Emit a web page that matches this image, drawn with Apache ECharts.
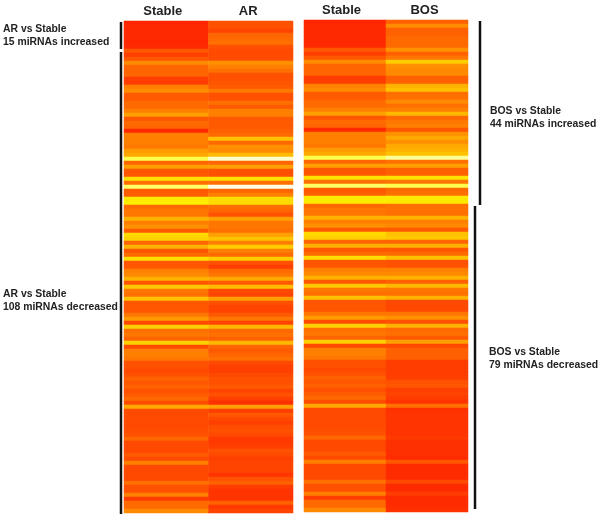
<!DOCTYPE html>
<html>
<head>
	<meta charset="utf-8">
	<title>miRNA heatmap</title>
	<script src="https://cdn.jsdelivr.net/npm/echarts@6/dist/echarts.min.js"></script>
	<style type="text/css">
		html,body{margin:0;padding:0;background:#ffffff;}
		/* the reference is a soft, slightly blurred scan */
		#main{width:600px;height:518px;filter:blur(0.55px);}
	</style>
</head>
<body>
	<div id="main"></div>
	<script type="text/javascript">
		// values are on a colour scale: 0 red, 10 yellow, 20 white
		var stable=[0.2,0.4,0.4,0.4,0.4,0.4,0.5,2.4,1.4,2.4,4.8,3.1,3.1,3.1,1.3,1.3,4.3,4.8,2.6,2.6,3.3,3.3,4.3,5.7,2.4,3.3,3.1,
			0.4,4.3,4.3,4.3,4.0,5.5,6.1,13,3.1,5.7,2.4,2.4,8.6,3.6,14,2.6,2.8,9.0,9.2,3.3,3.9,3.9,6.5,4.3,5.0,2.6,8.3,7.9,3.1,6.5,2.4,3.3,
			8.5,2.4,2.4,4.3,4.7,6.5,2.4,7.5,3.9,3.6,7.2,2.4,2.4,2.4,3.9,5.5,1.9,7.9,3.6,3.9,3.1,7.9,1.9,4.3,4.3,3.9,2.2,2.2,1.8,2.2,2.9,
			2.4,2.9,2.2,2.6,3.3,2.0,6.1,1.9,1.9,1.9,1.9,1.9,2.0,2.2,3.2,1.8,1.8,1.8,2.6,1.9,4.3,1.8,1.8,1.8,1.8,3.6,2.2,2.2,4.3,1.3,3.3,3.3,4.7];
		var ar=[2.2,2.2,1.6,3.1,3.3,3.6,2.2,1.9,1.9,2.0,5.0,4.3,3.6,2.2,2.2,2.4,2.6,4.0,2.2,2.2,3.6,2.6,4.3,4.3,2.6,2.6,2.6,
			2.9,3.3,7.2,3.3,5.0,4.8,6.9,18,3.1,5.7,2.2,2.2,8.6,3.6,19,3.1,4.3,8.4,8.4,3.6,3.1,2.2,5.7,3.9,3.9,3.6,5.7,7.2,4.3,7.7,4.3,3.3,
			7.7,2.2,1.4,3.3,3.9,6.1,2.6,7.0,1.9,1.6,5.7,2.2,1.6,1.6,2.6,3.9,1.6,6.8,3.3,3.6,2.9,6.8,3.1,2.6,3.1,3.6,1.8,1.4,1.4,1.8,2.2,
			2.2,2.6,1.6,2.2,1.4,0.7,5.7,1.4,2.5,1.8,1.4,2.0,2.2,1.8,1.1,1.1,1.4,2.2,1.8,1.4,1.6,1.6,1.6,0.9,2.2,2.9,1.3,0.9,0.9,0.9,2.9,1.1,1.6];
		var bos=[2.9,4.8,2.9,2.9,3.3,3.3,3.3,5.0,2.9,3.9,7.7,5.0,4.7,4.7,2.9,2.9,6.5,7.2,3.6,3.6,4.7,3.6,4.3,6.8,3.3,3.9,4.3,
			2.4,5.0,6.1,5.0,6.1,6.5,7.2,16,3.6,5.7,2.9,2.9,8.6,3.9,13,3.3,3.6,9.0,9.0,3.6,3.6,3.6,6.5,4.3,4.7,2.6,7.2,7.5,3.1,6.5,2.4,3.3,
			7.2,2.2,2.2,4.3,4.7,6.5,2.9,6.8,3.9,3.6,6.5,1.8,1.8,1.8,3.9,5.0,2.2,6.5,3.3,3.6,2.6,5.7,1.8,2.9,2.9,2.9,1.3,1.3,1.3,1.3,1.4,
			2.2,2.4,1.4,1.6,1.3,0.9,3.6,0.7,0.9,0.9,0.9,0.9,0.9,0.9,1.1,0.7,0.7,0.7,0.7,0.5,2.4,0.5,0.5,0.5,0.5,1.8,0.5,0.5,1.3,0.5,0.5,0.5,0.7];

		var leftGroups=['Stable','AR'];
		var rightGroups=['Stable','BOS'];
		var rows=[];
		for(var i=0;i<stable.length;i++){rows.push(i);}

		function cells(first,second){
			var out=[];
			for(var r=0;r<rows.length;r++){
				out.push([0,r,first[r]]);
				out.push([1,r,second[r]]);
			}
			return out;
		}
		function xAxis(groups,gridIndex,margin){
			return {
				type:'category',data:groups,gridIndex:gridIndex,position:'top',
				axisLine:{show:false},axisTick:{show:false},
				axisLabel:{
					margin:margin,color:'#222222',fontFamily:'Liberation Sans',fontWeight:'bold',fontSize:13,
					formatter:function(v){return v=='BOS'||v=='AR'?'{b|'+v+'}':'{a|'+v+'}';},
					rich:{
						a:{padding:[0,7,0,0],color:'#222222',fontFamily:'Liberation Sans',fontWeight:'bold',fontSize:13},
						b:{padding:[0,5,0,0],color:'#222222',fontFamily:'Liberation Sans',fontWeight:'bold',fontSize:13}
					}
				}
			};
		}
		function yAxis(gridIndex){
			return {type:'category',data:rows,gridIndex:gridIndex,inverse:true,axisLine:{show:false},axisTick:{show:false},axisLabel:{show:false}};
		}
		function note(x,y,first,second){
			return {
				type:'text',left:x,top:y,
				style:{text:first+'\n'+second,fill:'#222222',font:'bold 10.4px "Liberation Sans"',lineHeight:12.6}
			};
		}
		function bar(x,y1,y2){
			return {type:'line',shape:{x1:x,y1:y1,x2:x,y2:y2},style:{stroke:'#111111',lineWidth:2.5}};
		}

		var myChart=echarts.init(document.getElementById('main'),null,{renderer:'canvas'});
		myChart.setOption({
			backgroundColor:'#ffffff',
			animation:false,
			grid:[
				{left:124,top:21,width:169,height:492},
				{left:304,top:20,width:164,height:492}
			],
			xAxis:[xAxis(leftGroups,0,3),xAxis(rightGroups,1,3)],
			yAxis:[yAxis(0),yAxis(1)],
			visualMap:{
				show:false,min:0,max:20,seriesIndex:[0,1],
				inRange:{color:['#ff2000','#ffff00','#ffffff']}
			},
			series:[
				{type:'heatmap',xAxisIndex:0,yAxisIndex:0,data:cells(stable,ar),progressive:0},
				{type:'heatmap',xAxisIndex:1,yAxisIndex:1,data:cells(stable,bos),progressive:0}
			],
			graphic:[
				bar(121,22,49),
				bar(121,52,514),
				bar(480,21,205),
				bar(475,206,509),
				note(3,23,'AR vs Stable','15 miRNAs increased'),
				note(3,288,'AR vs Stable','108 miRNAs decreased'),
				note(490,105,'BOS vs Stable','44 miRNAs increased'),
				note(489,346,'BOS vs Stable','79 miRNAs decreased')
			]
		});
	</script>
</body>
</html>
